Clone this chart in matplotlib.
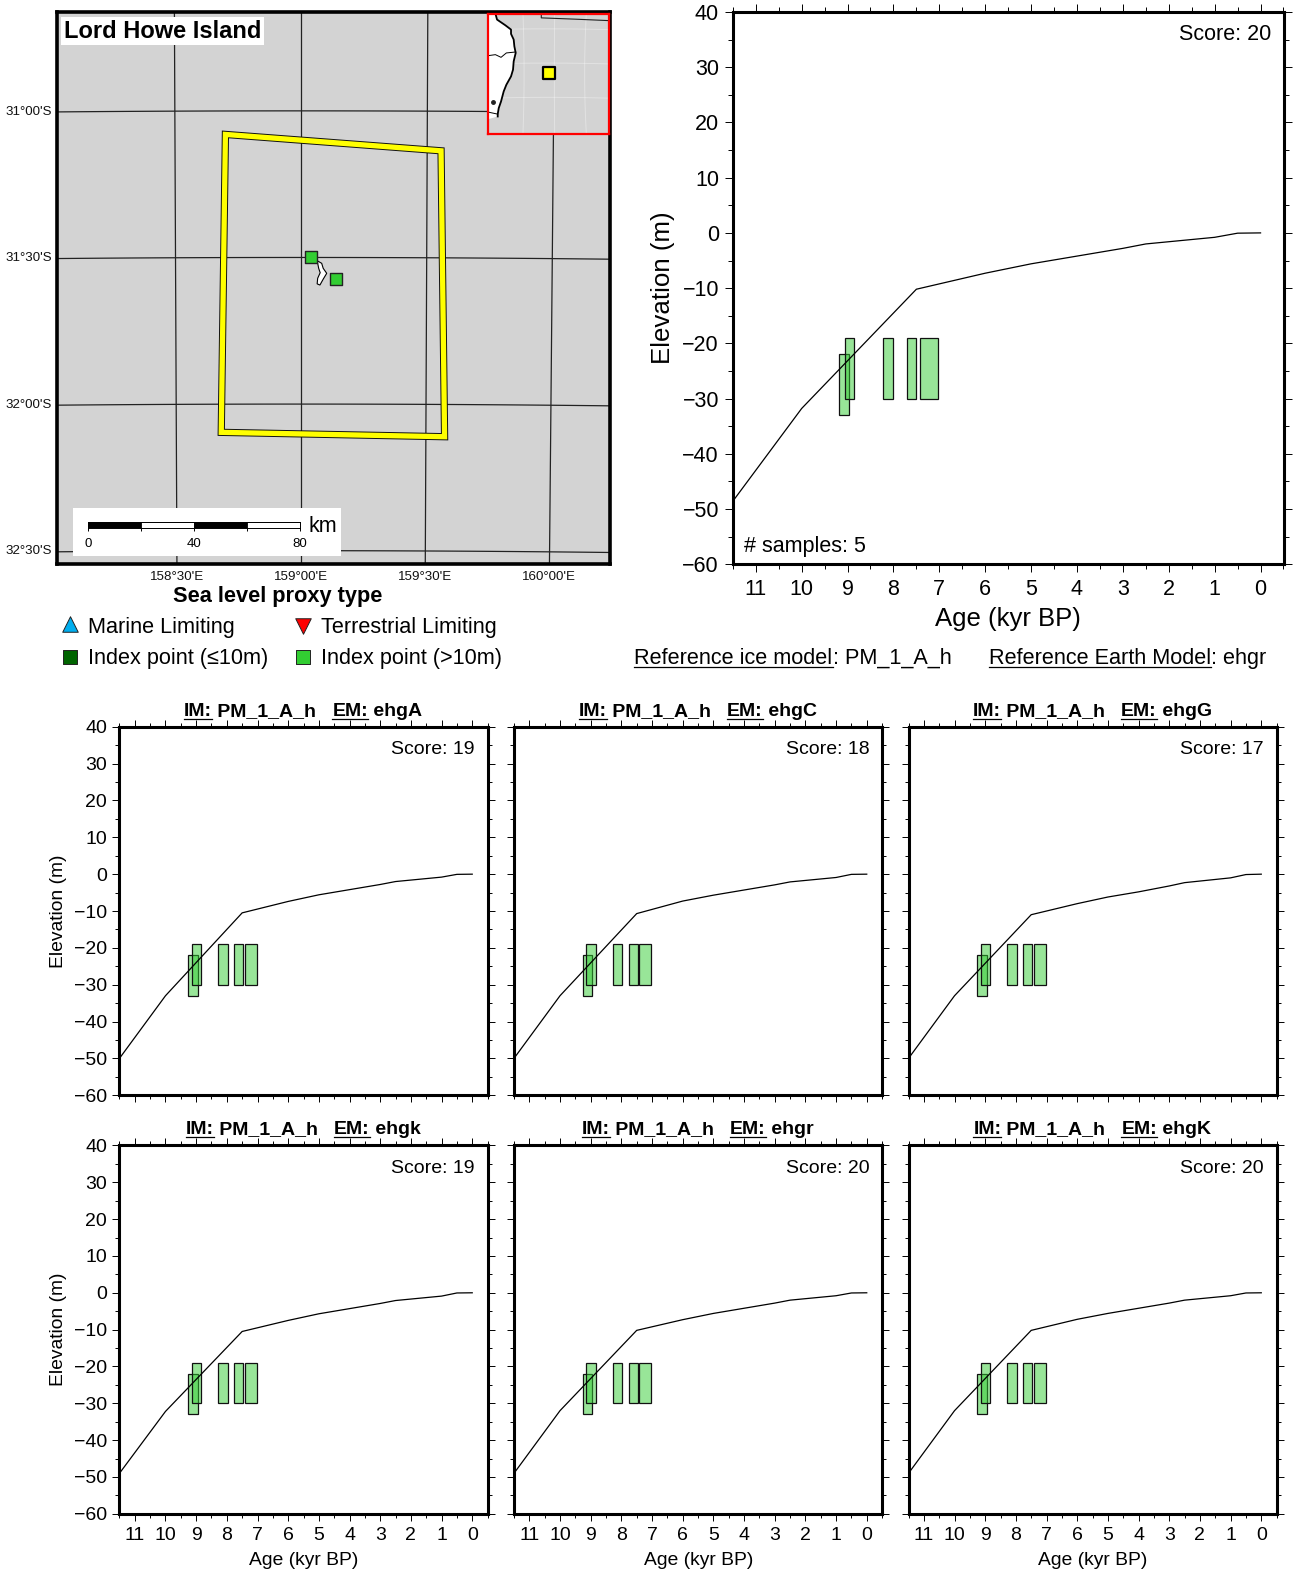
import numpy as np
import matplotlib
matplotlib.use('Agg')
import matplotlib.pyplot as plt
from matplotlib.patches import Rectangle, Polygon
from matplotlib.ticker import MultipleLocator

plt.rcParams['font.family'] = ['Liberation Sans', 'DejaVu Sans']

W, H = 1296, 1574
S = 1296 / 1291  # layout was measured on the shrunk picture

# curves
ages = [11.5, 10, 7.5, 6, 5, 4, 3, 2.5, 1, 0.5, 0]
elev_main = [-48.6, -31.8, -10.2, -7.3, -5.6, -4.2, -2.8, -2.0, -0.8, -0.05, 0]
elev_A = [-50, -33, -10.5, -7.4, -5.6, -4.2, -2.8, -2.0, -0.8, -0.05, 0]
elev_C = [-50, -33, -10.7, -7.3, -5.7, -4.3, -2.9, -2.1, -0.9, -0.05, 0]
elev_G = [-50, -33, -11, -8, -6.2, -4.8, -3.2, -2.3, -1, -0.1, 0]
elev_k = [-49, -32.2, -10.5, -7.5, -5.7, -4.3, -2.9, -2.1, -0.9, -0.05, 0]
elev_r = [-49, -32, -10.2, -7.3, -5.6, -4.2, -2.8, -2.0, -0.8, -0.05, 0]
elev_K = [-49, -32, -10.2, -7.2, -5.6, -4.2, -2.8, -2.0, -0.8, -0.05, 0]

# sea level index points
box_bottom = [-33, -30, -30, -30, -30]
box_top = [-22, -19, -19, -19, -19]
box_old_main = [9.18, 9.06, 8.22, 7.71, 7.42]
box_young_main = [8.97, 8.86, 8.01, 7.51, 7.02]
box_old_small = [9.26, 9.14, 8.28, 7.76, 7.42]
box_young_small = [8.95, 8.83, 7.97, 7.47, 7.03]

# small panels
panel_names = ['ehgA', 'ehgC', 'ehgG', 'ehgk', 'ehgr', 'ehgK']
panel_scores = [19, 18, 17, 19, 20, 20]
panel_elev = [elev_A, elev_C, elev_G, elev_k, elev_r, elev_K]

# map
grid_lons = [158.5, 159.0, 159.5, 160.0]
grid_lats = [-31.0, -31.5, -32.0, -32.5]
lon_labels = ["158°30'E", "159°00'E", "159°30'E", "160°00'E"]
lat_labels = ["31°00'S", "31°30'S", "32°00'S", "32°30'S"]
region_lon = [158.70, 159.555, 159.575, 158.68]
region_lat = [-31.08, -31.135, -32.11, -32.096]
site_lon = [159.04, 159.14]
site_lat = [-31.50, -31.574]
island_lon = [159.064, 159.082, 159.088, 159.102, 159.088, 159.075, 159.064, 159.066, 159.076, 159.070]
island_lat = [-31.511, -31.520, -31.537, -31.554, -31.574, -31.594, -31.590, -31.571, -31.552, -31.537]
scale_km = [0, 20, 40, 60, 80]

# inset
coast_lon = [150.26, 150.53, 151.9, 152.84, 152.84, 153.28, 153.39, 153.61, 153.28, 153.17, 152.84,
             152.07, 151.63, 151.19, 150.81, 150.64, 150.64, 149.1]
coast_lat = [-22.77, -23.65, -24.48, -25.11, -25.74, -26.57, -27.55, -28.52, -29.74, -30.96, -31.94,
             -33.16, -34.13, -35.6, -36.57, -37.45, -37.79, -38.18]
border1_lon = [149.1, 150.26, 151.19, 152.07, 153.61]
border1_lat = [-28.91, -28.77, -29.16, -28.52, -28.38]
border2_lon = [149.1, 150.64]
border2_lat = [-37.16, -37.45]
border3_lon = [157.84, 157.84, 163.72, 169.0]
border3_lat = [-22.77, -23.4, -23.6, -23.8]
inset_lons = [155, 160, 165]
inset_lats = [-25, -30, -35]


def add_axes(x0, y0, x1, y1):
    return fig.add_axes([x0 * S / W, 1 - y1 * S / H, (x1 - x0) * S / W, (y1 - y0) * S / H])


def ftext(x, y, s, **kw):
    kw.setdefault('va', 'center')
    return fig.text(x * S / W, 1 - y * S / H, s, **kw)


def project(lon, lat):
    lon = np.asarray(lon, dtype=float)
    lat = np.asarray(lat, dtype=float)
    dlon = lon - 159.0
    x = 1.005 * dlon * np.cos(np.radians(lat))
    y = (lat + 31.5) - 0.5 * dlon ** 2 * np.radians(1) * np.sin(np.radians(-lat)) * np.cos(np.radians(lat))
    return x, y


def underlined_row(x, y, pieces, size, weight='normal', center=False):
    # pieces are (string, underlined) pairs written one after the other
    rend = fig.canvas.get_renderer()
    items = []
    total = 0
    for s, ul in pieces:
        t = ftext(0, y, s, fontsize=size, fontweight=weight, ha='left', va='baseline')
        w = t.get_window_extent(rend).width
        items.append((t, w, ul))
        total += w
    px = x * S
    if center:
        px -= total / 2
    for t, w, ul in items:
        t.set_x(px / W)
        if ul:
            fig.add_artist(plt.Line2D([px / W, (px + w) / W],
                                      [1 - (y * S + 3.0) / H] * 2, color='k', lw=0.9))
        px += w


def draw_profile(ax, elev, olds, youngs, fsize, tick_major, tick_minor):
    ax.plot(ages, elev, color='k', lw=0.9, solid_joinstyle='miter', zorder=3)
    for old, young, b, t in zip(olds, youngs, box_bottom, box_top):
        ax.add_patch(Rectangle((young, b), old - young, t - b, facecolor=(0.196, 0.804, 0.196, 0.5),
                               edgecolor='#111111', lw=0.9, zorder=2))
    ax.set_xlim(11.5, -0.51)
    ax.set_ylim(-60, 40)
    ax.xaxis.set_major_locator(MultipleLocator(1))
    ax.xaxis.set_minor_locator(MultipleLocator(0.5))
    ax.yaxis.set_major_locator(MultipleLocator(10))
    ax.yaxis.set_minor_locator(MultipleLocator(5))
    ax.tick_params(which='both', top=True, right=True, direction='out', labelsize=fsize, width=0.7)
    ax.tick_params(axis='x', which='major', pad=4.5)
    ax.tick_params(axis='y', which='major', pad=4)
    ax.tick_params(which='major', length=tick_major)
    ax.tick_params(which='minor', length=tick_minor)
    for sp in ax.spines.values():
        sp.set_linewidth(2.2)


fig = plt.figure(figsize=(W / 100, H / 100), dpi=100)

# map panel
ax_map = add_axes(57, 12, 608, 562)
ax_map.set_facecolor('#D3D3D3')
map_xlim = (-0.832, 1.055)
map_ylim = (-1.046, 0.837)
fine_lat = np.linspace(-30.5, -33.0, 30)
fine_lon = np.linspace(157.5, 160.5, 30)
for lon in grid_lons:
    gx, gy = project(np.full_like(fine_lat, lon), fine_lat)
    ax_map.plot(gx, gy, color='#222222', lw=0.9, zorder=1)
for lat in grid_lats:
    gx, gy = project(fine_lon, np.full_like(fine_lon, lat))
    ax_map.plot(gx, gy, color='#222222', lw=0.9, zorder=1)
ix, iy = project(island_lon, island_lat)
ax_map.add_patch(Polygon(np.column_stack([ix, iy]), closed=True, facecolor='white', edgecolor='k', lw=0.8, zorder=2))
rx, ry = project(region_lon, region_lat)
ax_map.add_patch(Polygon(np.column_stack([rx, ry]), closed=True, fill=False, edgecolor='#111111', lw=5.2,
                         joinstyle='miter', zorder=3))
ax_map.add_patch(Polygon(np.column_stack([rx, ry]), closed=True, fill=False, edgecolor='#FFFF00', lw=3.8,
                         joinstyle='miter', zorder=4))
sx, sy = project(site_lon, site_lat)
ax_map.scatter(sx, sy, marker='s', s=78, facecolor='#32CD32', edgecolor='#222222', linewidth=1.0, zorder=5)
ax_map.set_xlim(map_xlim)
ax_map.set_ylim(map_ylim)
ax_map.set_xticks([])
ax_map.set_yticks([])
for sp in ax_map.spines.values():
    sp.set_linewidth(2.6)
for lat, lab in zip(grid_lats, lat_labels):
    _, ly = project(158.17, lat)
    ax_map.annotate(lab, xy=(map_xlim[0], ly), xytext=(-3.5, 0), textcoords='offset points',
                    ha='right', va='center', fontsize=9.6, color='#111111', annotation_clip=False)
for lon, lab in zip(grid_lons, lon_labels):
    lx, _ = project(lon, -32.6)
    ax_map.annotate(lab, xy=(lx, map_ylim[0]), xytext=(0, -5), textcoords='offset points',
                    ha='center', va='top', fontsize=9.6, color='#111111', annotation_clip=False)
ftext(64, 31, 'Lord Howe Island', fontsize=17, fontweight='bold', ha='left',
      bbox=dict(facecolor='white', edgecolor='none', pad=2.0), zorder=6)

# scale bar
fig.add_artist(Rectangle((73 * S / W, 1 - 554 * S / H), 267 * S / W, 48 * S / H, transform=fig.transFigure,
                         facecolor='white', edgecolor='none', zorder=5))
ax_bar = add_axes(88, 520, 299, 526)
ax_bar.set_zorder(6)
for i in range(len(scale_km) - 1):
    ax_bar.add_patch(Rectangle((scale_km[i], 0), scale_km[i + 1] - scale_km[i], 1,
                               facecolor='k' if i % 2 == 0 else 'white', edgecolor='k', lw=0.6))
ax_bar.set_xlim(0, 80)
ax_bar.set_ylim(0, 1)
ax_bar.set_yticks([])
ax_bar.set_xticks(scale_km)
ax_bar.set_xticklabels(['0', '', '40', '', '80'], fontsize=9.5)
ax_bar.tick_params(axis='x', length=2.5, width=0.7, pad=4.5)
for sp in ax_bar.spines.values():
    sp.set_linewidth(0.7)
ftext(307, 524, 'km', fontsize=15.5, ha='left', zorder=7)

# inset locator
ax_in = add_axes(486.5, 13.5, 606.5, 133)
ax_in.set_facecolor('#D3D3D3')
in_fine_lat = np.linspace(-22, -41, 12)
in_fine_lon = np.linspace(149, 170, 12)
for lon in inset_lons:
    ax_in.plot(lon + (in_fine_lat + 31.5) ** 2 * 0.0006 * (lon - 159), in_fine_lat, color='white', lw=0.7, alpha=0.35)
for lat in inset_lats:
    ax_in.plot(in_fine_lon, lat - (in_fine_lon - 159) ** 2 * 0.0012, color='white', lw=0.7, alpha=0.35)
ax_in.fill(coast_lon + [149.1, 149.1], coast_lat + [-38.18, -22.77], facecolor='white', edgecolor='none')
ax_in.plot(coast_lon[:-1], coast_lat[:-1], color='k', lw=1.3)
ax_in.plot(border1_lon, border1_lat, color='k', lw=0.7)
ax_in.plot(border2_lon, border2_lat, color='k', lw=0.7)
ax_in.plot(border3_lon, border3_lat, color='#222222', lw=0.8)
ax_in.plot(149.8, -35.74, marker='o', ms=2.5, color='#222222')
ax_in.scatter([159.05], [-31.5], marker='s', s=70, facecolor='#FFFF00', edgecolor='k', linewidth=1.6, zorder=5)
ax_in.set_xlim(149.1, 169.0)
ax_in.set_ylim(-40.28, -22.77)
ax_in.set_xticks([])
ax_in.set_yticks([])
for sp in ax_in.spines.values():
    sp.set_linewidth(1.6)
    sp.set_color('#FF0000')

# proxy legend
ftext(277, 594, 'Sea level proxy type', fontsize=15.7, fontweight='bold', ha='center')
ax_leg = fig.add_axes([0, 0, 1, 1], facecolor='none')
ax_leg.set_xlim(0, W / S)
ax_leg.set_ylim(H / S, 0)
ax_leg.axis('off')
ax_leg.scatter([70], [622], marker='^', s=125, facecolor='#00AEEF', edgecolor='#222222', linewidth=0.7)
ax_leg.scatter([302], [624], marker='v', s=125, facecolor='#FF0000', edgecolor='#222222', linewidth=0.7)
ax_leg.scatter([70], [654], marker='s', s=90, facecolor='#006400', edgecolor='#222222', linewidth=0.7)
ax_leg.scatter([302], [654], marker='s', s=90, facecolor='#32CD32', edgecolor='#222222', linewidth=0.7)
ftext(88, 625, 'Marine Limiting', fontsize=15.6, ha='left')
ftext(320, 625, 'Terrestrial Limiting', fontsize=15.6, ha='left')
ftext(88, 656, 'Index point (≤10m)', fontsize=15.6, ha='left')
ftext(320, 656, 'Index point (>10m)', fontsize=15.6, ha='left')

fig.canvas.draw()
underlined_row(632, 661, [('Reference ice model', True), (': PM_1_A_h', False)], 15.6)
underlined_row(985, 661, [('Reference Earth Model', True), (': ehgr', False)], 15.6)

# main profile
ax_main = add_axes(730, 12, 1279, 562)
draw_profile(ax_main, elev_main, box_old_main, box_young_main, 15.5, 6, 3.5)
ax_main.set_xlabel('Age (kyr BP)', fontsize=18.5, labelpad=5)
ax_main.set_ylabel('Elevation (m)', fontsize=18.6, labelpad=5.5)
ax_main.text(0.977, 0.96, 'Score: 20', transform=ax_main.transAxes, ha='right', va='center', fontsize=15.5)
ax_main.text(0.02, 0.032, '# samples: 5', transform=ax_main.transAxes, ha='left', va='center', fontsize=15.5)

# model comparison panels
col_left = [119, 512, 905]
row_top = [724, 1141]
for i, (name, score, elev) in enumerate(zip(panel_names, panel_scores, panel_elev)):
    r, c = divmod(i, 3)
    ax = add_axes(col_left[c], row_top[r], col_left[c] + 367, row_top[r] + 367)
    draw_profile(ax, elev, box_old_small, box_young_small, 14, 5, 3)
    if c == 0:
        ax.set_ylabel('Elevation (m)', fontsize=13.9, labelpad=4.5)
    else:
        ax.tick_params(axis='y', labelleft=False)
    if r == 1:
        ax.set_xlabel('Age (kyr BP)', fontsize=13.9, labelpad=6)
    else:
        ax.tick_params(axis='x', labelbottom=False)
    ax.text(0.965, 0.938, 'Score: %d' % score, transform=ax.transAxes, ha='right', va='center', fontsize=14)
    underlined_row(col_left[c] + 183, row_top[r] - 11,
                   [('IM:', True), (' PM_1_A_h   ', False), ('EM:', True), (' ' + name, False)],
                   14, weight='bold', center=True)

fig.savefig('out.png', dpi=100)
